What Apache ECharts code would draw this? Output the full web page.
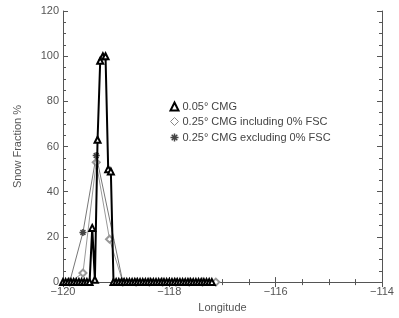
<!DOCTYPE html>
<html>
<head>
<meta charset="utf-8">
<script src="https://cdn.jsdelivr.net/npm/echarts@6/dist/echarts.min.js"></script>
<style>
html,body{margin:0;padding:0;background:#fff;}
#chart{width:399px;height:318px;}
</style>
</head>
<body>
<div id="chart"></div>
<script>
// 0.05 deg CMG
var lon05 = [-120.00,-119.95,-119.90,-119.85,-119.80,-119.75,-119.70,-119.65,-119.60,-119.55,
	-119.50,-119.45,-119.40,-119.35,-119.30,-119.25,-119.20,-119.15,-119.10,-119.05,
	-119.00,-118.95,-118.90,-118.85,-118.80,-118.75,-118.70,-118.65,-118.60,-118.55,
	-118.50,-118.45,-118.40,-118.35,-118.30,-118.25,-118.20,-118.15,-118.10,-118.05,
	-118.00,-117.95,-117.90,-117.85,-117.80,-117.75,-117.70,-117.65,-117.60,-117.55,
	-117.50,-117.45,-117.40,-117.35,-117.30,-117.25,-117.20];
var snow05 = [0,0,0,0,0,0,0,0,0,0,
	0,24,1,63,98,100,100,50,49,0,
	0,0,0,0,0,0,0,0,0,0,
	0,0,0,0,0,0,0,0,0,0,
	0,0,0,0,0,0,0,0,0,0,
	0,0,0,0,0,0,0];
// 0.25 deg CMG
var lon25 = [-119.875,-119.625,-119.375,-119.125,-118.875,-118.625,-118.375,-118.125,-117.875,-117.625,-117.375,-117.125];
var snowIncl = [0,4,53,19,0,0,0,0,0,0,0,0];
var snowExcl = [0,22,56,null,0,null,null,null,null,null,null,null];

var xTicks = [-120,-118,-116,-114];
var yTicks = [0,20,40,60,80,100,120];

var FONT = "Liberation Sans";
var starPath = "path://M5,0L5,10M0,5L10,5M1.5,1.5L8.5,8.5M1.5,8.5L8.5,1.5";

function pairs(xs,ys){
	var out = [];
	for(var i=0;i<xs.length;i++) out.push([xs[i],ys[i]]);
	return out;
}
function minus(v){ return String(v).replace("-","\u2212"); }

var chart = echarts.init(document.getElementById("chart"),null,{renderer:"canvas"});

var tickStyle = {show:true,inside:true,length:5,lineStyle:{color:"#555",width:1}};
var minorStyle = {show:true,splitNumber:4,length:3,lineStyle:{color:"#555",width:1}};

chart.setOption({
	animation:false,
	backgroundColor:"#fff",
	grid:{left:63,right:17,top:11,bottom:30},
	legend:{
		orient:"vertical",left:163,top:96,itemGap:4,itemWidth:8,itemHeight:8,
		textStyle:{fontFamily:FONT,fontSize:11,color:"#444",padding:[0,0,0,-1]},
		data:[
			{name:"0.05\u00b0 CMG",icon:"triangle",itemStyle:{color:"#fff",borderColor:"#000",borderWidth:2}},
			{name:"0.25\u00b0 CMG including 0% FSC",icon:"diamond",itemStyle:{color:"#fff",borderColor:"#888",borderWidth:1}},
			{name:"0.25\u00b0 CMG excluding 0% FSC",icon:starPath,itemStyle:{color:"none",borderColor:"#444",borderWidth:1.5}}
		]
	},
	xAxis:[{
		type:"value",min:-120,max:-114,interval:2,
		name:"Longitude",nameLocation:"middle",nameGap:19,
		nameTextStyle:{fontFamily:FONT,fontSize:11,color:"#555"},
		axisLine:{lineStyle:{color:"#555",width:1}},
		axisTick:tickStyle,minorTick:minorStyle,
		axisLabel:{fontFamily:FONT,fontSize:11,color:"#555",margin:4,formatter:minus},
		splitLine:{show:false}
	},{
		type:"value",position:"top",min:-120,max:-114,interval:2,
		axisLine:{lineStyle:{color:"#555",width:1}},
		axisTick:tickStyle,minorTick:minorStyle,
		axisLabel:{show:false},splitLine:{show:false}
	}],
	yAxis:[{
		type:"value",min:0,max:120,interval:20,
		name:"Snow Fraction %",nameLocation:"middle",nameGap:40,
		nameTextStyle:{fontFamily:FONT,fontSize:11,color:"#555"},
		axisLine:{show:true,lineStyle:{color:"#555",width:1}},
		axisTick:tickStyle,minorTick:minorStyle,
		axisLabel:{fontFamily:FONT,fontSize:11,color:"#555",margin:4},
		splitLine:{show:false}
	},{
		type:"value",position:"right",min:0,max:120,interval:20,
		axisLine:{show:true,lineStyle:{color:"#555",width:1}},
		axisTick:tickStyle,minorTick:minorStyle,
		axisLabel:{show:false},splitLine:{show:false}
	}],
	series:[{
		name:"0.25\u00b0 CMG including 0% FSC",type:"line",
		data:pairs(lon25,snowIncl),
		symbol:"emptyDiamond",symbolSize:7,
		lineStyle:{color:"#999",width:1},
		itemStyle:{color:"#999",borderWidth:1},
		z:2
	},{
		name:"0.25\u00b0 CMG excluding 0% FSC",type:"line",
		data:pairs(lon25,snowExcl),connectNulls:true,
		symbol:starPath,symbolSize:7,
		lineStyle:{color:"#777",width:1},
		itemStyle:{color:"none",borderColor:"#444",borderWidth:1.5},
		z:3
	},{
		name:"0.05\u00b0 CMG",type:"line",
		data:pairs(lon05,snow05),
		symbol:"emptyTriangle",symbolSize:6,
		lineStyle:{color:"#000",width:2},
		itemStyle:{color:"#000",borderWidth:2},
		z:4
	}]
});
</script>
</body>
</html>
